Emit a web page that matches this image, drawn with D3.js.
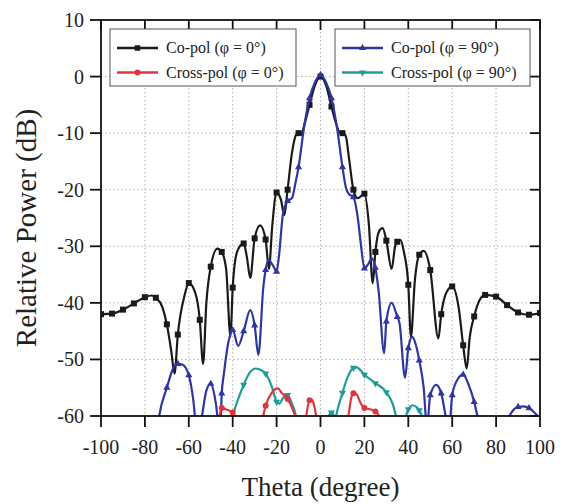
<!DOCTYPE html>
<html><head><meta charset="utf-8">
<script src="https://cdn.jsdelivr.net/npm/d3@7"></script>
<style>body{margin:0;background:#fff}svg{display:block}text{font-family:"Liberation Serif","Times New Roman",serif}</style>
</head><body><svg id="c" width="567" height="504"></svg>
<script>
// ---- data ----
const xTicks = [-100,-80,-60,-40,-20,0,20,40,60,80,100];
const yTicks = [10,0,-10,-20,-30,-40,-50,-60];

const coPol0Theta = [-100,-95,-90,-85,-80,-77,-75,-72,-70,-68,-66.5,-65,-62,-60,-57,-55,-53.5,-52,-50,-47,-45,-43,-41,-40,-38,-35,-33.5,-32,-30,-27.5,-25,-23.5,-22,-20,-18,-16.5,-15,-13,-11,-10,-9,-7,-5,-2.5,0,2.5,5,7,9,10,11.5,13,15,17,20,22,23.8,25,26.5,28.3,30,32.4,34,35,36.5,38,40,41.2,43,45,47,50,53.7,55,57,60,63,65,66.6,68,70,72.5,75,80,85,90,95,100];
const coPol0Values = [-42,-41.9,-41.2,-40.1,-39,-38.7,-39.1,-40.8,-43.8,-48.5,-52.5,-45.6,-38.8,-36.5,-38.3,-43,-50.8,-40,-33.6,-30.4,-31,-34,-46,-37.3,-31,-29.5,-32,-35.6,-28.6,-26.3,-28.8,-34,-26.5,-20.5,-21.8,-24.5,-20,-13.5,-10.2,-10,-10.3,-8,-5,-1.5,0,-1.5,-5.3,-8.2,-10,-10,-10.5,-14.5,-20,-21.5,-20.7,-26,-36.5,-31,-27.5,-26.8,-29,-34,-30,-29.2,-28.9,-31,-36.8,-46,-36,-31.5,-30.8,-34.2,-46.3,-42,-38.5,-37.1,-41,-47.5,-51.6,-46,-42.4,-39.5,-38.6,-38.9,-40.4,-41.7,-42.1,-41.8];

const xPol0Theta = [-47,-46,-45,-42.5,-40,-38.5,-37, -28,-26.1,-25,-22,-19.5,-17.5,-15,-13,-11.6,-10, -7.5,-6.5,-5,-4,-3,-2,-1, 11,12.7,14,15,16.5,18,20,22.5,25,26.5,28];
const xPol0Values = [-63,-60,-58.6,-58.9,-59.4,-60.5,-64, -64,-60,-58.2,-55.8,-55.1,-56,-57,-58.5,-60,-63, -63,-60,-57.2,-57.1,-58,-60,-63, -63,-60,-56.8,-56,-56.2,-57.5,-58.6,-58.8,-59.2,-59.9,-63];

const coPol90Theta = [-76,-73.5,-70,-67,-65,-63,-60,-58,-56,-54,-52,-50,-48.5,-47,-46,-45,-44,-42,-40,-37.5,-35,-32,-30,-28.3,-26,-25,-23.8,-21.5,-20,-19,-17,-15,-13,-11.5,-10,-7.5,-5,-2.5,0,2.5,5,7.5,10,11.5,13,15,17,18.5,20,22,23.3,25,26.5,29,30,32.4,35,36,38.5,40,41.8,43.5,45,47,48.5,50,52.7,55,57,58.5,60,62.5,65,67.5,70,72.5,78,84,87,90,92.5,95,98,100];
const coPol90Values = [-68,-60,-55,-51.5,-50.8,-50.9,-52.8,-57,-64,-60,-55.5,-54.3,-56,-60,-66,-56,-52.5,-47,-44.8,-47.6,-45,-41.3,-44,-49.2,-37,-34.2,-32.4,-33.5,-34.5,-32,-24,-22,-21.5,-19,-16,-9,-3.8,-1,0.3,-1,-3.8,-9,-16,-19.5,-20.8,-21.3,-25,-30,-33.9,-33,-32.1,-33.8,-38,-48.9,-43.3,-40,-42.5,-43.6,-53.2,-48,-46,-47.5,-50.2,-55,-62,-56.3,-54.5,-56,-60,-63,-56.3,-53.5,-52.7,-54.5,-57.5,-62,-75,-62,-59.4,-58.4,-58.3,-58.6,-59.6,-60.5];

const xPol90Theta = [-42,-39.8,-37,-35,-32,-29.5,-27,-25,-22,-20,-18.8,-17,-15,-13,-11.2,-9, 2,3.5,5,6.8,8,10,12.5,15,16.5,20,25,30,33,35,37,39,40,42,44,45,47,49];
const xPol90Values = [-66,-60,-56.5,-54.5,-52.2,-51.6,-51.9,-52.5,-55,-57.5,-57.8,-56.8,-56.3,-57.8,-60,-66, -63,-60.3,-59.4,-60.2,-58.5,-55.9,-53,-51.5,-51.4,-52.7,-54.2,-55.8,-58,-61,-64,-60,-58.8,-58.1,-58.5,-59,-61,-66];

const seriesNames = ["Co-pol (φ = 0°)","Cross-pol (φ = 0°)","Co-pol (φ = 90°)","Cross-pol (φ = 90°)"];
const seriesColors = ["#1a1a1a","#e0353a","#2f36a0","#1f9c98"];
const seriesSymbols = ["square","circle","triangleUp","triangleDown"];

// ---- layout ----
const svg = d3.select("#c");
const L = 101, R = 540, T = 20, B = 416;
const x = d3.scaleLinear().domain([-100,100]).range([L,R]);
const y = d3.scaleLinear().domain([-60,10]).range([B,T]);

// grid
const g = svg.append("g");
g.selectAll(".gx").data(xTicks.slice(1,-1)).enter().append("line")
  .attr("x1",d=>x(d)).attr("x2",d=>x(d)).attr("y1",T).attr("y2",B)
  .attr("stroke","#b0b0b0").attr("stroke-width",1).attr("stroke-dasharray","1.5,2.5");
g.selectAll(".gy").data(yTicks.slice(1,-1)).enter().append("line")
  .attr("y1",d=>y(d)).attr("y2",d=>y(d)).attr("x1",L).attr("x2",R)
  .attr("stroke","#b0b0b0").attr("stroke-width",1).attr("stroke-dasharray","1.5,2.5");

// clip
svg.append("clipPath").attr("id","clip").append("rect")
  .attr("x",L).attr("y",T).attr("width",R-L).attr("height",B-T);

const allSeries = [
  {t:coPol0Theta, v:coPol0Values},
  {t:xPol0Theta, v:xPol0Values},
  {t:coPol90Theta, v:coPol90Values},
  {t:xPol90Theta, v:xPol90Values}
];

function symPath(type, s){
  if(type==="square") return d3.symbol(d3.symbolSquare, s*s)();
  if(type==="circle") return d3.symbol(d3.symbolCircle, Math.PI*(s/2)*(s/2))();
  return d3.symbol(d3.symbolTriangle, s*s*0.45)();
}

const line = d3.line().x(d=>x(d[0])).y(d=>y(d[1])).curve(d3.curveMonotoneX);
const plotG = svg.append("g").attr("clip-path","url(#clip)");
const order = [0,2,3,1];
order.forEach(i=>{
  const s = allSeries[i];
  const pts = s.t.map((t,j)=>[t,s.v[j]]);
  plotG.append("path").attr("d",line(pts)).attr("fill","none")
    .attr("stroke",seriesColors[i]).attr("stroke-width",2.2).attr("stroke-linejoin","round");
  const mk = pts.filter(p=>Number.isInteger(p[0]/5) && p[1]>=-60 && p[1]<=10);
  plotG.selectAll(null).data(mk).enter().append("path")
    .attr("d",symPath(seriesSymbols[i], i===0?6:(i===1?6:7)))
    .attr("transform",d=>`translate(${x(d[0])},${y(d[1])})${seriesSymbols[i]==="triangleDown"?" rotate(180)":""}`)
    .attr("fill",seriesColors[i]);
});

// frame
svg.append("rect").attr("x",L).attr("y",T).attr("width",R-L).attr("height",B-T)
  .attr("fill","none").attr("stroke","#111").attr("stroke-width",1.8);

// ticks
const tk = svg.append("g").attr("stroke","#111").attr("stroke-width",1.8);
xTicks.forEach(t=>{
  tk.append("line").attr("x1",x(t)).attr("x2",x(t)).attr("y1",B).attr("y2",B+11);
  tk.append("line").attr("x1",x(t)).attr("x2",x(t)).attr("y1",T).attr("y2",T+10);
});
yTicks.forEach(t=>{
  tk.append("line").attr("y1",y(t)).attr("y2",y(t)).attr("x1",L-11).attr("x2",L);
  tk.append("line").attr("y1",y(t)).attr("y2",y(t)).attr("x1",R-10).attr("x2",R);
});
// tick labels
svg.append("g").selectAll("text").data(xTicks).enter().append("text")
  .attr("x",d=>x(d)).attr("y",454).attr("text-anchor","middle")
  .attr("font-size",20).attr("fill","#222").text(d=>d);
svg.append("g").selectAll("text").data(yTicks).enter().append("text")
  .attr("x",84).attr("y",d=>y(d)+7).attr("text-anchor","end")
  .attr("font-size",20).attr("fill","#222").text(d=>d);

// axis titles
svg.append("text").attr("x",(L+R)/2).attr("y",496).attr("text-anchor","middle")
  .attr("font-size",27).attr("fill","#222").text("Theta (degree)");
svg.append("text").attr("transform","translate(36,228) rotate(-90)").attr("text-anchor","middle")
  .attr("font-size",29).attr("fill","#222").text("Relative Power (dB)");

// legends
const legends = [
  {x:110, w:186, items:[0,1]},
  {x:335, w:195, items:[2,3]}
];
legends.forEach(lg=>{
  const gg = svg.append("g");
  gg.append("rect").attr("x",lg.x).attr("y",29).attr("width",lg.w).attr("height",57)
    .attr("fill","#fff").attr("stroke","#555").attr("stroke-width",1);
  lg.items.forEach((i,k)=>{
    const yy = 48 + k*24.5;
    gg.append("line").attr("x1",lg.x+7).attr("x2",lg.x+48).attr("y1",yy).attr("y2",yy)
      .attr("stroke",seriesColors[i]).attr("stroke-width",2.5);
    gg.append("path").attr("d",symPath(seriesSymbols[i], i===0?5.5:(i===1?6:7)))
      .attr("transform",`translate(${lg.x+27.5},${yy})${seriesSymbols[i]==="triangleDown"?" rotate(180)":""}`)
      .attr("fill",seriesColors[i]);
    gg.append("text").attr("x",lg.x+56).attr("y",yy+5)
      .attr("font-size",16).attr("fill","#222").text(seriesNames[i]);
  });
});
</script></body></html>
